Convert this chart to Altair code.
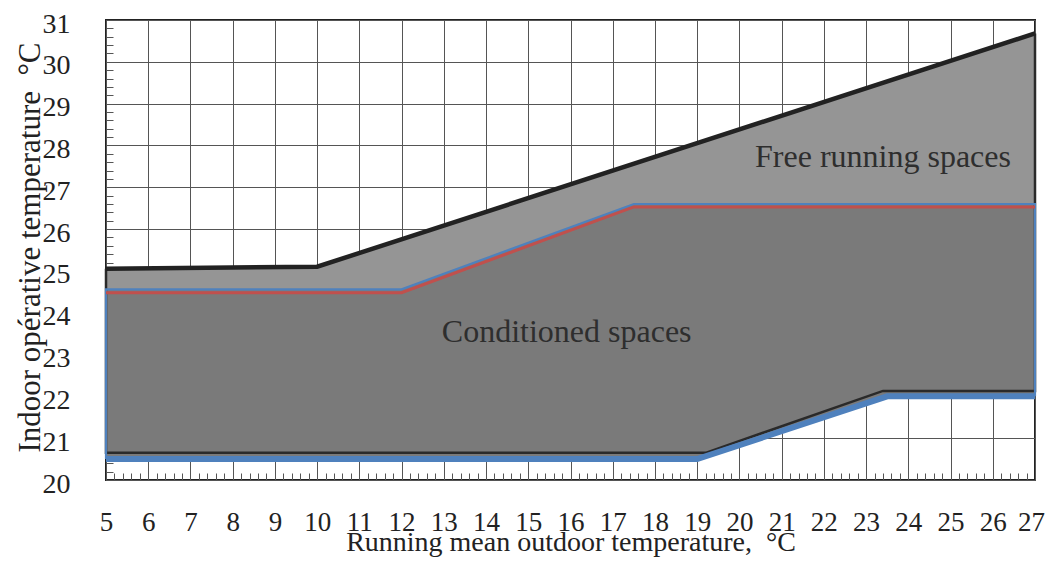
import altair as alt
import pandas as pd

# ---- data ----
# free-running zone (area between bottom and top)
free_x = [5, 10, 19.2, 23.4, 27]
free_top = [25.05, 25.1, 28.1, 29.47, 30.68]
free_bottom = [20.65, 20.65, 20.65, 22.13, 22.13]

# conditioned zone
cond_x = [5, 12, 17.5, 19, 23.5, 27]
cond_top = [24.56, 24.56, 26.6, 26.6, 26.6, 26.6]
cond_bottom = [20.5, 20.5, 20.5, 20.5, 22.0, 22.0]

# boundary lines
free_top_line_x = [5, 10, 27]
free_top_line_y = [25.05, 25.1, 30.68]
free_outline_x = [5, 5, 19.2, 23.4, 27, 27]
free_outline_y = [25.05, 20.65, 20.65, 22.13, 22.13, 30.68]
red_x = [5, 12, 17.5, 27]
red_y = [24.48, 24.48, 26.53, 26.53]
blue_thin_x = [5, 5, 12, 17.5, 27, 27]
blue_thin_y = [20.5, 24.56, 24.56, 26.6, 26.6, 22.0]
blue_thick_x = [5, 19, 23.5, 27]
blue_thick_y = [20.5, 20.5, 22.0, 22.0]

# annotations (baseline positions)
note_text = ["Free running spaces", "Conditioned spaces"]
note_x = [23.4, 15.91]
note_y = [27.49, 23.30]

# axis ticks
x_ticks = [round(5 + i * 0.2, 1) for i in range(0, 111)]
y_ticks = [round(20 + i * 0.2, 1) for i in range(0, 56)]

FONT = "Liberation Serif"
TXT = "#222222"
MAJOR = "abs(datum.value - round(datum.value)) < 0.001"

x_axis = alt.Axis(
    values=x_ticks, offset=-7, domain=False, format=".0f",
    ticks=True, tickSize=7, tickColor="#555555", tickWidth=1,
    grid=True, gridColor="#555555", gridWidth=1,
    gridOpacity={"condition": {"test": MAJOR, "value": 1}, "value": 0},
    labelExpr=f"{MAJOR} ? datum.label : ''",
    labelFont=FONT, labelFontSize=27, labelColor=TXT, labelPadding=50,
    labelBaseline="alphabetic",
    labelOffset={"condition": {"test": "datum.value > 26.9", "value": -4}, "value": 0},
    labelFlush=False, labelOverlap=False,
    title="Running mean outdoor temperature,\u00a0\u00a0°C",
    titleFont=FONT, titleFontSize=28, titleFontWeight="normal", titleColor=TXT,
    titleY=77, titleBaseline="alphabetic",
)
y_axis = alt.Axis(
    values=y_ticks, offset=-7, domain=False, format=".0f",
    ticks=True, tickSize=7, tickColor="#555555", tickWidth=1,
    grid=True, gridColor="#555555", gridWidth=1,
    gridOpacity={"condition": {"test": MAJOR, "value": 1}, "value": 0},
    labelExpr=f"{MAJOR} ? datum.label : ''",
    labelFont=FONT, labelFontSize=28, labelColor=TXT, labelPadding=36,
    labelOffset=4,
    labelOverlap=False, labelFlush=False,
    title="Indoor opérative temperature\u00a0\u00a0°C",
    titleFont=FONT, titleFontSize=31, titleFontWeight="normal", titleColor=TXT,
    titleX=-83, titleY=227, titleAngle=-90, titleBaseline="middle", titleAlign="center",
)

xs = alt.Scale(domain=[5, 27], nice=False, zero=False)
ys = alt.Scale(domain=[20, 31], nice=False, zero=False)


def X(f):
    return alt.X(f"{f}:Q", scale=xs, axis=x_axis)


def Y(f):
    return alt.Y(f"{f}:Q", scale=ys, axis=y_axis)


free_df = pd.DataFrame({"x": free_x, "y": free_top, "y2": free_bottom})
cond_df = pd.DataFrame({"x": cond_x, "y": cond_top, "y2": cond_bottom})


def path_df(xv, yv):
    return pd.DataFrame({"x": xv, "y": yv, "o": list(range(len(xv)))})


free_area = alt.Chart(free_df).mark_area(color="#959595", opacity=1).encode(
    x=X("x"), y=Y("y"), y2="y2")
cond_area = alt.Chart(cond_df).mark_area(color="#7a7a7a", opacity=1).encode(
    x=X("x"), y=Y("y"), y2="y2")


def line(xv, yv, color, width):
    return alt.Chart(path_df(xv, yv)).mark_line(
        color=color, strokeWidth=width, strokeJoin="miter", strokeCap="butt"
    ).encode(x=X("x"), y=Y("y"), order="o:Q")


free_outline = line(free_outline_x, free_outline_y, "#2a2a2a", 2.5)
free_top_line = line(free_top_line_x, free_top_line_y, "#222222", 4.5)
red_line = line(red_x, red_y, "#c0504d", 3)
blue_thin = line(blue_thin_x, blue_thin_y, "#4f81bd", 2.2)
blue_thick = line(blue_thick_x, blue_thick_y, "#4f81bd", 6)

notes = alt.Chart(pd.DataFrame({"x": note_x, "y": note_y, "t": note_text})).mark_text(
    font=FONT, fontSize=32, color="#2e2e2e", baseline="alphabetic", align="center"
).encode(x=X("x"), y=Y("y"), text="t:N")

chart = alt.layer(
    free_area, cond_area, free_outline, free_top_line, blue_thick, blue_thin, red_line, notes
).properties(
    width=929, height=460,
    padding={"left": 98, "top": 12, "right": 10, "bottom": 77},
    autosize="none",
).configure_view(stroke="#222222", strokeWidth=2)

chart.save("out.html", embed_options={"renderer": "svg", "actions": False})
